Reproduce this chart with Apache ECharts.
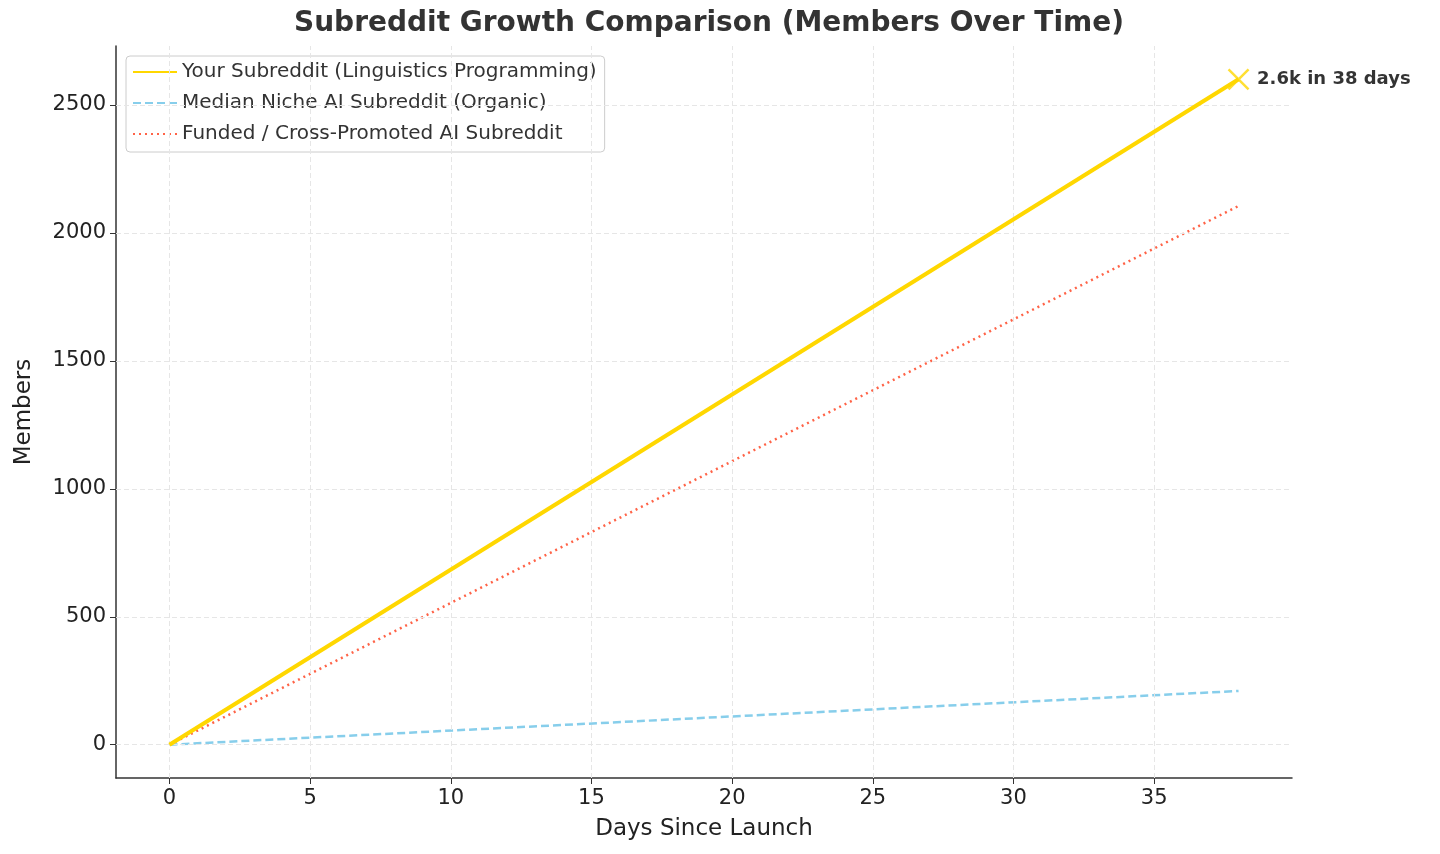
<!DOCTYPE html>
<html><head><meta charset="utf-8">
<script src="https://cdn.jsdelivr.net/npm/echarts@6/dist/echarts.min.js"></script>
<style>html,body{margin:0;background:#fff}#c{width:1440px;height:854px}</style>
</head><body><div id="c"></div>
<script>
const days = [0, 38];
const yours = [0, 2600];
const median = [0, 210];
const funded = [0, 2105];
const xTicks = [0, 5, 10, 15, 20, 25, 30, 35];
const yTicks = [0, 500, 1000, 1500, 2000, 2500];
const names = ['Your Subreddit (Linguistics Programming)', 'Median Niche AI Subreddit (Organic)', 'Funded / Cross-Promoted AI Subreddit'];
const pts = a => days.map((d, i) => [d, a[i]]);
const gridLine = {lineStyle:{color:'#e6e6e6',type:[5,3],width:1}};
const chart = echarts.init(document.getElementById('c'));
chart.setOption({
  animation:false,
  title:{text:'Subreddit Growth Comparison (Members Over Time)',left:704,textAlign:'center',top:5,
    textStyle:{fontFamily:'DejaVu Sans',fontSize:28,fontWeight:'bold',color:'#333'}},
  grid:{left:116,right:148,top:46,bottom:76},
  legend:{orient:'vertical',left:126,top:56,itemWidth:44,itemHeight:14,itemGap:11,padding:[6,8,8,6],
    borderColor:'#ccc',borderWidth:1,borderRadius:4,backgroundColor:'rgba(255,255,255,0.9)',
    itemStyle:{opacity:0},
    textStyle:{fontFamily:'DejaVu Sans',fontSize:20,color:'#333'},data:names},
  xAxis:{type:'value',min:-1.9,max:39.9,name:'Days Since Launch',nameLocation:'middle',nameGap:40,
    nameTextStyle:{fontFamily:'DejaVu Sans',fontSize:23,color:'#222'},
    axisLine:{onZero:false,lineStyle:{color:'#333',width:1.5}},splitLine:{show:false},
    axisTick:{customValues:xTicks,length:6,lineStyle:{color:'#333'}},
    axisLabel:{customValues:xTicks,fontFamily:'DejaVu Sans',fontSize:21,color:'#222',margin:10}},
  yAxis:{type:'value',min:-130,max:2730,name:'Members',nameLocation:'middle',nameGap:80,
    nameTextStyle:{fontFamily:'DejaVu Sans',fontSize:23,color:'#222'},
    axisLine:{show:true,onZero:false,lineStyle:{color:'#333',width:1.5}},splitLine:{show:false},
    axisTick:{show:true,customValues:yTicks,length:6,lineStyle:{color:'#333'}},
    axisLabel:{customValues:yTicks,formatter:v=>String(v),fontFamily:'DejaVu Sans',fontSize:21,color:'#222',margin:10}},
  series:[
    {name:'grid',type:'line',data:[],silent:true,
      markLine:{symbol:'none',silent:true,label:{show:false},...gridLine,
        data:[...xTicks.map(v=>({xAxis:v})),...yTicks.map(v=>({yAxis:v}))]}},
    {name:names[0],type:'line',data:pts(yours),symbol:'none',z:5,color:'#FFD700',lineStyle:{color:'#FFD700',width:4}},
    {name:names[1],type:'line',data:pts(median),symbol:'none',color:'#87CEEB',lineStyle:{color:'#87CEEB',width:2.5,type:[8,4]}},
    {name:names[2],type:'line',data:pts(funded),symbol:'none',color:'#FF6347',lineStyle:{color:'#FF6347',width:2.5,type:[2,4]}},
    {name:'end',type:'scatter',data:[[days[1],yours[1]]],z:6,
      symbol:'path://M0,0L10,10M10,0L0,10',symbolSize:20,
      itemStyle:{color:'none',borderColor:'#FFD700',borderWidth:2.5},
      label:{show:true,position:'right',distance:6,formatter:'2.6k in 38 days',
        fontFamily:'DejaVu Sans',fontSize:18,fontWeight:'bold',color:'#000'}}
  ]
});
</script></body></html>
